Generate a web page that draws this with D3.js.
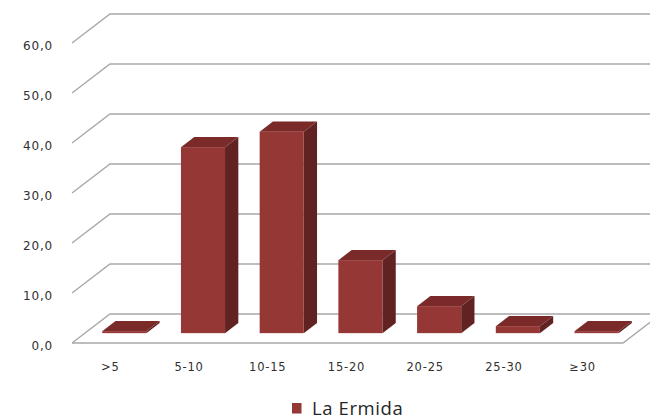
<!DOCTYPE html>
<html>
<head>
<meta charset="utf-8">
<script src="https://cdn.jsdelivr.net/npm/d3@7"></script>
<style>
  html, body { margin: 0; padding: 0; background: #ffffff; }
  svg { display: block; }
</style>
</head>
<body>
<svg id="chart" width="650" height="420"></svg>
<script>
// Diameter classes and share of trees in each class
const categories = [">5", "5-10", "10-15", "15-20", "20-25", "25-30", "\u226530"];
const seriesName = "La Ermida";
const values = [0.4, 37.2, 40.3, 14.6, 5.4, 1.4, 0.4];
const yTicks = [0, 10, 20, 30, 40, 50, 60];
const yTickLabels = ["0,0", "10,0", "20,0", "30,0", "40,0", "50,0", "60,0"];

const svg = d3.select("#chart");

// Oblique 3D projection: depth fraction d shifts a point by (DX*d, DY*d)
const DX = 38, DY = -29;
const barDepth = [0.34, 0.69];

const x = d3.scaleBand()
  .domain(categories)
  .range([72, 623])
  .paddingInner(0.44)
  .paddingOuter(0.22);

const y = d3.scaleLinear().domain([0, 60]).range([343, 43]);

const grid = "#a8a8a8";
const colFront = "#953735", colTop = "#7a2a28", colSide = "#612321";

// floor
const x0 = x.range()[0], x1 = x.range()[1];
svg.append("path")
  .attr("d", `M${x0},${y(0)} L${x1},${y(0)} L${x1 + DX},${y(0) + DY} L${x0 + DX},${y(0) + DY} Z`)
  .attr("fill", "#ffffff")
  .attr("stroke", "none");

// side-wall and back-wall gridlines
const gridG = svg.append("g");
yTicks.forEach(t => {
  gridG.append("path")
    .attr("d", `M${x0},${y(t)} L${x0 + DX},${y(t) + DY} L${x1 + DX},${y(t) + DY}`)
    .attr("fill", "none")
    .attr("stroke", grid)
    .attr("stroke-width", 1.4);
});

// front and right edges of the floor
svg.append("path")
  .attr("d", `M${x0},${y(0)} L${x1},${y(0)} L${x1 + DX},${y(0) + DY}`)
  .attr("fill", "none")
  .attr("stroke", grid)
  .attr("stroke-width", 1.4);

// value axis labels
svg.append("g").selectAll("text")
  .data(yTicks)
  .join("text")
  .attr("x", 53)
  .attr("y", d => y(d) + 3.5)
  .attr("text-anchor", "end")
  .attr("dominant-baseline", "middle")
  .attr("font-family", "DejaVu Sans, Verdana, sans-serif")
  .attr("font-size", 12)
  .attr("letter-spacing", 0.8)
  .attr("fill", "#303030")
  .text((d, i) => yTickLabels[i]);

// category labels
svg.append("g").selectAll("text")
  .data(categories)
  .join("text")
  .attr("x", d => x(d) + x.bandwidth() / 2 - 1)
  .attr("y", 367)
  .attr("text-anchor", "middle")
  .attr("dominant-baseline", "middle")
  .attr("font-family", "DejaVu Sans, Verdana, sans-serif")
  .attr("font-size", 11.5)
  .attr("letter-spacing", 0.8)
  .attr("fill", "#303030")
  .text(d => d);

// 3D columns: side, top, front
const bars = svg.append("g");
categories.forEach((c, i) => {
  const v = values[i];
  const fx = x(c) + DX * barDepth[0];
  const fy0 = y(0) + DY * barDepth[0];
  const fy1 = y(v) + DY * barDepth[0];
  const w = x.bandwidth();
  const ddx = DX * (barDepth[1] - barDepth[0]);
  const ddy = DY * (barDepth[1] - barDepth[0]);
  const g = bars.append("g");
  // right side
  g.append("path")
    .attr("d", `M${fx + w},${fy0} L${fx + w + ddx},${fy0 + ddy} L${fx + w + ddx},${fy1 + ddy} L${fx + w},${fy1} Z`)
    .attr("fill", colSide);
  // top
  g.append("path")
    .attr("d", `M${fx},${fy1} L${fx + w},${fy1} L${fx + w + ddx},${fy1 + ddy} L${fx + ddx},${fy1 + ddy} Z`)
    .attr("fill", colTop);
  // front
  g.append("rect")
    .attr("x", fx)
    .attr("y", fy1)
    .attr("width", w)
    .attr("height", fy0 - fy1)
    .attr("fill", colFront);
});

// legend
const legend = svg.append("g");
legend.append("rect")
  .attr("x", 292).attr("y", 403)
  .attr("width", 9.5).attr("height", 10.5)
  .attr("fill", colFront);
legend.append("text")
  .attr("x", 312)
  .attr("y", 415)
  .attr("font-family", "Open Sans, sans-serif")
  .attr("font-size", 18.5)
  .attr("letter-spacing", 0.6)
  .attr("fill", "#262626")
  .text(seriesName);
</script>
</body>
</html>
